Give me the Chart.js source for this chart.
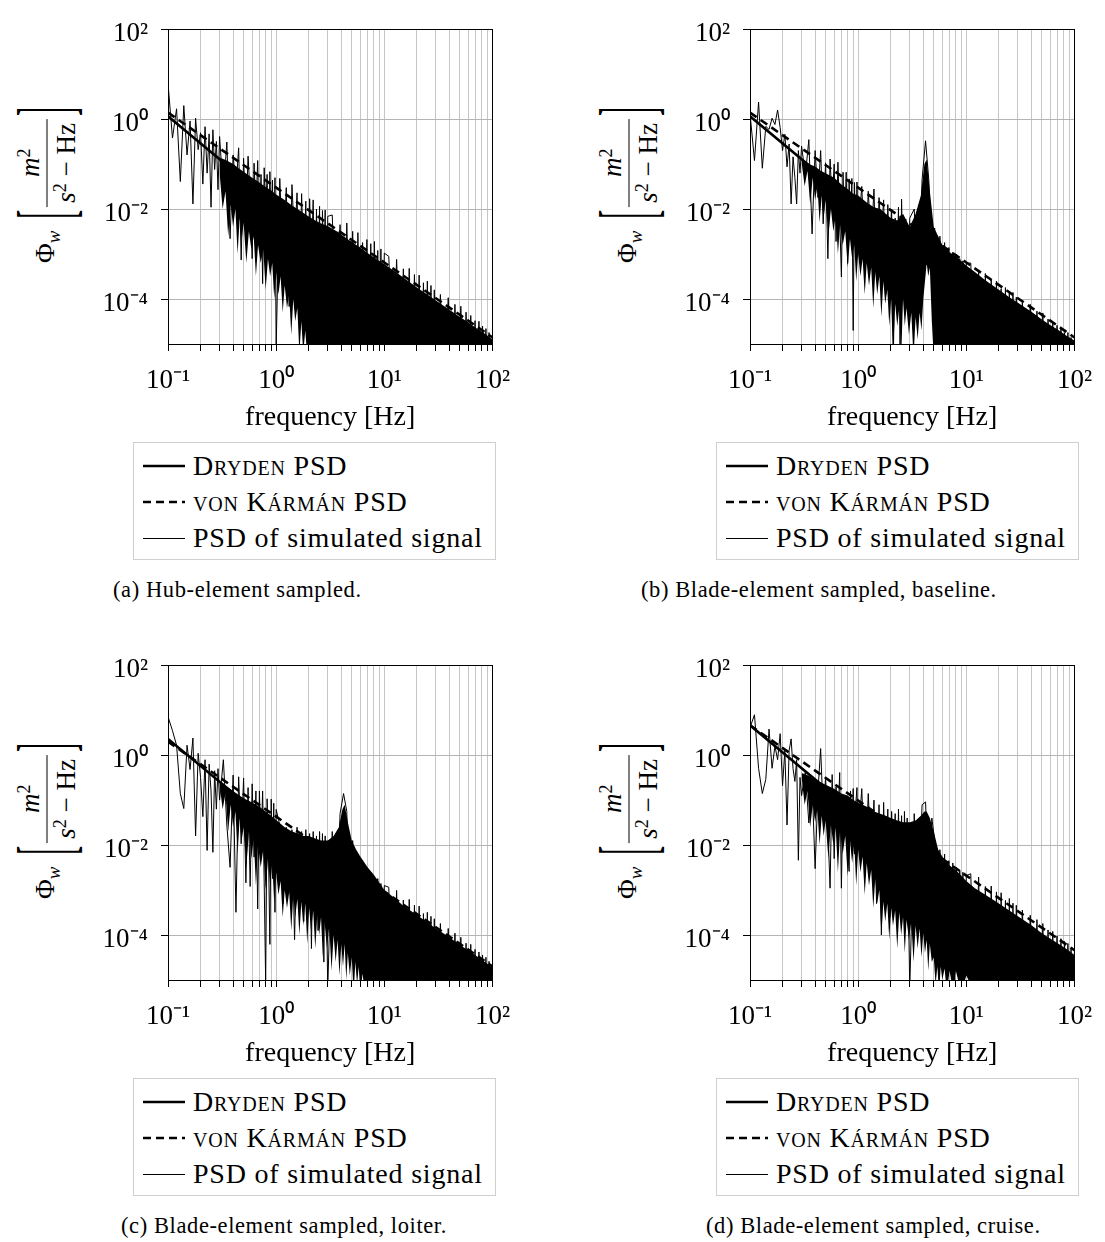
<!DOCTYPE html>
<html>
<head>
<meta charset="utf-8">
<script src="https://cdn.jsdelivr.net/npm/chart.js@4.4.1/dist/chart.umd.min.js"></script>
<style>
  html, body { margin:0; padding:0; background:#fff; overflow:hidden; }
  #page { position:relative; width:1105px; height:1242px; background:#fff; font-family:'Liberation Serif','Times New Roman',serif; color:#000; }
  canvas { position:absolute; }
  .yt { position:absolute; display:flex; align-items:center; white-space:nowrap; font-size:27px; line-height:1;
        font-family:'Liberation Serif','Times New Roman',serif;
        transform:translate(-50%,-50%) rotate(-90deg); }
  .yt .phi { margin-right:12px; }
  .yt .phi sub { font-style:italic; font-size:19px; vertical-align:-6px; }
  .yt .br { display:inline-block; transform:scaleY(2.9); font-size:27px; line-height:1; }
  .yt .frac { display:inline-flex; flex-direction:column; align-items:center; margin:0 3px; }
  .yt .num { font-style:italic; padding:0 2px 3px; }
  .yt .den { border-top:1.2px solid #000; padding:3px 4px 0; }
  .yt sup { font-size:18px; vertical-align:9px; font-style:normal; }
  .yt i { font-style:italic; }
  .legend { position:absolute; width:363px; height:118px; box-sizing:border-box; border:1px solid #cfcfcf; background:#fff;
            font-family:'Liberation Serif','Times New Roman',serif; }
  .legend .row { position:absolute; left:0; height:36px; width:100%; }
  .legend svg { position:absolute; left:9px; top:13px; }
  .legend .txt { position:absolute; left:59px; top:0; line-height:36px; font-size:28px; letter-spacing:0.8px; white-space:nowrap; }
  .sc { font-variant:small-caps; }
  .cap { position:absolute; font-size:22.5px; letter-spacing:0.6px; white-space:nowrap; line-height:24px;
         font-family:'Liberation Serif','Times New Roman',serif; }
</style>
</head>
<body>
<div id="page">
  <canvas id="ca" width="434" height="440" style="left:90px;top:0px"></canvas>
  <canvas id="cb" width="434" height="440" style="left:672px;top:0px"></canvas>
  <canvas id="cc" width="434" height="440" style="left:90px;top:636px"></canvas>
  <canvas id="cd" width="434" height="440" style="left:672px;top:636px"></canvas>
</div>
<script>
// ---------------- data ----------------
const seriesNames = ['Dryden PSD', 'von Kármán PSD', 'PSD of simulated signal'];
const captions = ['(a) Hub-element sampled.', '(b) Blade-element sampled, baseline.',
                  '(c) Blade-element sampled, loiter.', '(d) Blade-element sampled, cruise.'];
const xTitle = 'frequency [Hz]';

const xTickVals = [0.1,0.2,0.3,0.4,0.5,0.6,0.7,0.8,0.9,1,2,3,4,5,6,7,8,9,10,20,30,40,50,60,70,80,90,100];
const xTickLabels = ['10⁻¹','','','','','','','','','10⁰','','','','','','','','','10¹','','','','','','','','','10²'];
const yTickVals = [1e-4, 1e-2, 1, 100];
const yTickLabels = ['10⁻⁴','10⁻²','10⁰','10²'];

// model PSD curves (Hz, value)
const lineF = [0.1, 1, 10, 100];
const drydenA = [1.16, 1.16e-2, 1.16e-4, 1.16e-6];
const vonKarmanA = [1.4, 3.0e-2, 6.5e-4, 1.4e-5];
const drydenB = [1.16, 1.16e-2, 1.16e-4, 1.16e-6];
const vonKarmanB = [1.4, 3.0e-2, 6.5e-4, 1.4e-5];
const drydenC = [2.3, 2.3e-2, 2.3e-4, 2.3e-6];
const vonKarmanC = [2.0, 4.3e-2, 9.3e-4, 2.0e-5];
const drydenD = [4.6, 4.6e-2, 4.6e-4, 4.6e-6];
const vonKarmanD = [4.6, 9.8e-2, 2.1e-3, 4.6e-5];

// simulated-signal PSD
const simF = [0.10,0.11,0.12,0.13,0.14,0.15,0.16,0.17,0.18,0.19,0.20,0.21,0.22,0.23,0.24,0.25,0.26,0.27,0.28,0.29,0.30,
  0.325,0.35,0.375,0.40,0.425,0.45,0.475,0.50,0.525,0.55,0.575,0.60,0.625,0.65,0.675,0.70,0.725,0.75,0.775,0.80,0.825,0.85,0.875,0.90,0.925,0.95,0.975,1.0,
  1.08,1.16,1.24,1.32,1.40,1.48,1.56,1.64,1.72,1.80,1.88,1.96,2.04,2.12,2.20,2.28,2.36,2.44,2.52,2.60,2.68,2.76,2.84,2.92,3.0,
  3.3,3.6,3.9,4.2,4.5,4.8,5.1,5.4,5.7,6.0,6.3,6.6,6.9,7.2,7.5,7.8,8.1,8.4,8.7,9.0,9.3,9.6,10,
  11,12,13,14,15,16,17,18,19,20,21,22,23,24,25,26,27,28,29,30,
  33,36,39,42,45,48,51,54,57,60,63,66,69,72,75,78,81,84,87,90,93,96,100];

const simA = [6.3,3.8e-1,1.7,4.1e-2,2.0,1.6e-1,9.1e-1,1.3e-2,1.05,2.1e-1,5.0e-1,3.6e-2,6.8e-1,6.3e-2,4.7e-1,1.1e-2,5.8e-1,7.6e-2,3.2e-1,2.7e-2,4.1e-1,
  2.2e-2,3.1e-1,2.2e-3,1.6e-1,2.8e-2,2.3e-1,7.4e-4,1.35e-1,6.3e-3,1.5e-1,2.1e-2,7.9e-4,1.05e-1,8.7e-3,1.2e-1,1.9e-3,5.9e-2,2.2e-4,8.3e-2,7.8e-3,5.9e-2,8.9e-4,6.8e-2,3.2e-3,4.4e-2,3.0e-4,5.0e-2,8e-6,
  4.8e-2,6.8e-4,3.0e-2,6.8e-5,3.5e-2,1.8e-3,2.3e-2,1.2e-4,2.2e-2,5.1e-4,1.5e-2,1.4e-5,1.7e-2,7.8e-4,1.6e-2,4.4e-5,1.0e-2,1.5e-4,1.15e-2,5.5e-6,9.3e-3,3.2e-4,9.5e-3,1.4e-5,6.9e-3,
  7.4e-3,3.2e-5,4.5e-3,7.8e-6,4.9e-3,3.2e-5,3.2e-3,1.0e-5,3.0e-3,1.4e-5,1.8e-3,3e-6,2.1e-3,1.3e-5,1.7e-3,3.5e-6,1.9e-3,7.8e-6,1.2e-3,3.5e-6,1.3e-3,5e-6,1.05e-3,
  8.9e-4,4.4e-6,7.6e-4,3.3e-6,4.7e-4,2.7e-6,4.8e-4,2.2e-6,3.5e-4,1.8e-6,3.4e-4,1.6e-6,2.3e-4,1.3e-6,2.5e-4,1.2e-6,2.0e-4,1.0e-6,1.6e-4,9e-7,
  1.26e-4,1e-6,1.07e-4,1e-6,7.6e-5,1e-6,6.9e-5,1e-6,5.1e-5,1e-6,4.3e-5,1e-6,3.3e-5,1e-6,3.2e-5,1e-6,2.5e-5,1e-6,2.2e-5,1e-6,1.8e-5,1e-6,1.6e-5];

const simB = [1.35,1.2e-1,2.4,8.1e-2,6.9e-1,5.9e-1,1.05,7.6e-1,1.6,6.5e-1,2e-1,4.6e-1,8.7e-2,2.8e-1,1.3e-2,1.45e-1,5e-2,1.3e-2,2e-1,6.3e-2,2.5e-1,
  5.6e-2,3.5e-1,2.8e-3,2e-1,1.8e-2,2e-1,4.7e-3,1.07e-1,7.9e-4,1.3e-1,1.35e-2,1e-1,1.9e-3,1.1e-1,6.6e-3,3.1e-4,6.6e-2,3.5e-3,6.6e-2,6.2e-4,4.7e-2,4.5e-3,4.8e-2,2e-5,3.9e-2,1.2e-3,4e-2,2.7e-3,
  3.2e-2,5e-4,2.5e-2,1.6e-3,2.8e-2,2.5e-4,1.8e-2,2.5e-3,1.6e-2,1.26e-4,1.26e-2,6.3e-4,1e-2,6.3e-6,6.3e-3,3.2e-4,1.1e-2,7.9e-6,1.66e-2,4e-4,5e-3,6.3e-5,4e-3,2e-4,6.3e-3,
  1e-2,1e-4,4.5e-2,3.3e-1,4.5e-2,1e-3,3.8e-3,6.3e-6,2.5e-3,1.26e-5,1.8e-3,5e-6,1.4e-3,1e-5,1.1e-3,5e-6,1e-3,6.3e-6,7.9e-4,5e-6,7.1e-4,6.3e-6,6.3e-4,
  6.3e-4,1e-6,4.3e-4,1e-6,3.7e-4,1e-6,2.7e-4,1e-6,2.5e-4,1e-6,1.7e-4,1e-6,1.8e-4,1e-6,1.4e-4,1e-6,1.4e-4,1e-6,1.1e-4,1e-6,
  8.9e-5,1e-6,7.6e-5,1e-6,5.4e-5,1e-6,4.9e-5,1e-6,3.6e-5,1e-6,3e-5,1e-6,2.6e-5,1e-6,2.3e-5,1e-6,1.8e-5,1e-6,1.8e-5,1e-6,1.4e-5,1e-6,1.26e-5];

const simC = [7.2,3.5,1.66,1.4e-1,6.5e-2,1.66,4.8e-1,2.4,1.6e-2,1.1,3.2e-1,4.3e-2,7.9e-1,7.6e-3,6.3e-1,1.6e-1,6.9e-3,4.5e-1,6.3e-2,5e-1,1e-1,
  7.9e-1,2.8e-2,3.2e-3,3.6e-1,3.2e-4,3.3e-1,1.07e-2,3.1e-1,1.45e-3,1.9e-1,1.2e-3,2.3e-1,5.4e-3,1.6e-1,3.8e-4,1.6e-1,8.5e-3,1.6e-1,1.5e-3,8.9e-6,1.07e-1,6.5e-3,6.2e-5,1.05e-1,1.8e-3,8.5e-2,3.2e-4,6.2e-2,
  2.8e-2,5e-4,2.5e-2,2.5e-3,2.2e-2,7.9e-5,2.5e-2,1e-3,2e-2,2e-4,2.2e-2,1.6e-3,1.8e-2,5e-5,2e-2,6.3e-4,1.6e-2,1.26e-4,2e-2,4e-4,1.8e-2,2.5e-5,1.6e-2,5e-4,6.3e-6,
  2e-2,1.6e-4,5e-2,1.4e-1,5.6e-2,2.5e-4,1.26e-2,2.5e-5,6.3e-3,6.3e-5,4.5e-3,6.3e-6,3.2e-3,1e-5,2.5e-3,5e-6,2e-3,6.3e-6,1.8e-3,5e-6,1.4e-3,6.3e-6,1.26e-3,
  1.15e-3,1e-6,9.8e-4,1e-6,6e-4,1e-6,6.2e-4,1e-6,4.6e-4,1e-6,4.4e-4,1e-6,3e-4,1e-6,3.2e-4,1e-6,2.6e-4,1e-6,2.3e-4,1e-6,
  1.8e-4,1e-6,1.4e-4,1e-6,1.1e-4,1e-6,8.9e-5,1e-6,6.6e-5,1e-6,6.2e-5,1e-6,4.8e-5,1e-6,4.2e-5,1e-6,3.6e-5,1e-6,3.2e-5,1e-6,2.6e-5,1e-6,2.3e-5];

const simD = [4.1,7.9,5.1e-1,1.4e-1,2.9e-1,3.8,5.1e-1,1.6,7.9e-1,3.0,2.1e-1,1.26,2.8e-2,1.26,2.3,5e-1,2.6e-1,7.9e-1,4.6e-3,3.2e-1,1.26e-1,
  4.4e-1,3.1e-2,2.5e-1,3e-3,1.6e-1,1.4,5e-2,3.2e-1,2.5e-2,1.1e-3,3.7e-1,5e-3,2e-1,3.2e-2,4.1e-1,1.1e-3,1.26e-1,2e-2,1.2e-1,1e-2,2.6e-3,1.6e-1,1.6e-2,1.8e-1,6.3e-3,7.9e-2,1.9e-1,1.26e-2,
  1.8e-1,2e-3,1.4e-1,5e-3,1e-1,5e-4,7.9e-2,1e-4,8.9e-2,1.26e-3,6.3e-2,2.5e-4,5.6e-2,2.5e-3,5e-2,1.6e-4,6.3e-2,7.9e-4,4.5e-2,3.2e-4,5.6e-2,1.6e-3,4e-2,4e-4,6.3e-6,
  5e-2,2.5e-4,7.9e-2,9.1e-2,6.3e-4,4e-2,1.26e-2,2e-5,7.9e-3,3.2e-5,6.3e-3,1.26e-5,4.5e-3,2.5e-5,4e-3,6.3e-6,3.2e-3,2e-5,2.8e-3,6.3e-6,2.5e-3,1.6e-5,2.1e-3,
  2.3e-3,1e-6,1.95e-3,1e-6,1.2e-3,1e-6,1.23e-3,1e-6,9.1e-4,1e-6,8.7e-4,1e-6,5.9e-4,1e-6,6.5e-4,1e-6,5.1e-4,1e-6,4.6e-4,1e-6,
  3.6e-4,1e-6,2.75e-4,1e-6,2.2e-4,1e-6,1.8e-4,1e-6,1.3e-4,1e-6,1.2e-4,1e-6,9.5e-5,1e-6,8.3e-5,1e-6,7.2e-5,1e-6,6.5e-5,1e-6,5.1e-5,1e-6,4.6e-5];

// dense part of the simulated-signal PSD: upper edge and (jagged) lower edge of the solid band
const bandF = [0.3,0.35,0.4,0.45,0.5,0.6,0.7,0.8,0.9,1,1.2,1.4,1.6,1.8,2,2.3,2.6,3,3.4,3.8,4.1,4.3,4.6,5,5.5,6,7,8,10,12,15,20,25,30,40,50,60,70,85,100];
const bandLoF = [0.30,0.32,0.34,0.36,0.38,0.40,0.42,0.44,0.46,0.48,0.50,0.53,0.56,0.59,0.62,0.65,0.68,0.72,0.76,0.80,0.84,0.88,0.92,0.96,1.0,
  1.05,1.1,1.15,1.2,1.26,1.32,1.38,1.44,1.5,1.57,1.64,1.71,1.78,1.86,1.94,2.02,2.1,2.2,2.3,2.4,2.5,2.6,2.7,2.8,
  2.95,3.1,3.25,3.4,3.55,3.7,3.85,4.0,4.15,4.3,4.45,4.6,4.8,5.0,5.2,5.4,5.6,5.8,6.0,6.3,6.6,7.0,7.5,8,9,10,12,15,20,30,50,100];

const bandHiA = [1.4e-1,1.2e-1,1e-1,8.1e-2,6.8e-2,5e-2,3.9e-2,3.1e-2,2.6e-2,2.1e-2,1.6e-2,1.2e-2,9.8e-3,8.1e-3,6.8e-3,5.6e-3,4.8e-3,4.2e-3,3.5e-3,3.0e-3,2.6e-3,2.4e-3,2.1e-3,1.9e-3,1.6e-3,1.4e-3,1.05e-3,8.5e-4,5.9e-4,4.4e-4,3.0e-4,1.8e-4,1.26e-4,9.3e-5,5.8e-5,4e-5,3e-5,2.3e-5,1.7e-5,1.26e-5];
const bandLoA = [6.3e-2,1e-2,2.5e-2,2.5e-3,1.26e-2,4e-3,1e-2,1e-3,6.3e-3,2e-3,5e-3,6.3e-4,3.2e-3,1.26e-3,2.5e-3,3.2e-4,1.6e-3,6.3e-4,1.26e-3,1.6e-4,7.9e-4,3.2e-4,6.3e-4,1e-4,4e-4,
  1.26e-4,3.2e-4,5e-5,2e-4,6.3e-5,1.26e-4,1.6e-5,1e-4,3.2e-5,6.3e-5,6.3e-6,3.2e-5,6.3e-6,2e-5,5e-6,1e-5,5e-6,5e-6,5e-6,5e-6,5e-6,5e-6,5e-6,5e-6,
  5e-6,5e-6,5e-6,5e-6,5e-6,5e-6,5e-6,5e-6,5e-6,5e-6,5e-6,5e-6,5e-6,5e-6,5e-6,5e-6,5e-6,5e-6,5e-6,5e-6,5e-6,5e-6,5e-6,5e-6,5e-6,5e-6,5e-6,5e-6,5e-6,5e-6,5e-6,5e-6];

const bandHiB = [1.26e-1,1e-1,8.9e-2,7.1e-2,6.3e-2,5e-2,3.5e-2,2.8e-2,2.2e-2,2e-2,1.4e-2,1.1e-2,1e-2,7.9e-3,6.3e-3,5.6e-3,7.9e-3,4e-3,7.9e-3,2e-2,1e-1,1.26e-1,2.5e-2,4e-3,2.5e-3,1.6e-3,1.1e-3,8.9e-4,5.6e-4,4e-4,2.6e-4,1.6e-4,1.1e-4,8.3e-5,5.2e-5,3.5e-5,2.6e-5,2.1e-5,1.5e-5,1.2e-5];
const bandLoB = [1.1e-1,3.2e-2,7.1e-2,1.26e-2,5e-2,1.6e-2,3.2e-2,5e-3,2e-2,6.3e-3,1.6e-2,2.5e-3,1e-2,3.2e-3,7.1e-3,1e-3,4.5e-3,1.6e-3,3.2e-3,5e-4,2.2e-3,7.9e-4,1.6e-3,2.5e-4,1e-3,
  3.2e-4,7.9e-4,1.26e-4,6.3e-4,2e-4,5e-4,6.3e-5,4e-4,1.26e-4,3.2e-4,4e-5,2.5e-4,7.9e-5,1.6e-4,2.5e-5,1e-4,5e-6,7.9e-5,2.5e-5,6.3e-5,5e-6,1e-4,2.5e-5,6.3e-5,
  1.6e-5,5e-5,5e-6,4e-5,1.26e-5,5e-5,2e-5,1e-4,2.5e-4,6.3e-4,3.2e-4,5e-4,3.2e-5,5e-6,5e-6,5e-6,5e-6,5e-6,5e-6,5e-6,5e-6,5e-6,5e-6,5e-6,5e-6,5e-6,5e-6,5e-6,5e-6,5e-6,5e-6,5e-6];

const bandHiC = [2.5e-1,2e-1,1.6e-1,1.3e-1,1.1e-1,8.9e-2,7.1e-2,5.6e-2,4.5e-2,3.6e-2,2.5e-2,2e-2,1.8e-2,1.6e-2,1.6e-2,1.4e-2,1.26e-2,1.26e-2,1.6e-2,2.5e-2,6.3e-2,7.9e-2,3.2e-2,1.26e-2,7.9e-3,5.6e-3,3.2e-3,2.2e-3,1e-3,7.1e-4,4.5e-4,2.8e-4,1.9e-4,1.4e-4,8.9e-5,6e-5,4.5e-5,3.5e-5,2.5e-5,1.9e-5];
const bandLoC = [2.2e-1,6.3e-2,1.4e-1,2e-2,7.9e-2,2.5e-2,5.6e-2,6.3e-3,4e-2,1.26e-2,2.5e-2,3.2e-3,2e-2,5e-3,1.4e-2,1.26e-3,1e-2,3.2e-3,7.9e-3,1e-3,5e-3,1.26e-3,4e-3,5e-4,2.5e-3,
  7.9e-4,1.6e-3,2.5e-4,1e-3,4e-4,8.9e-4,1.26e-4,7.9e-4,2.5e-4,6.3e-4,1e-4,5.6e-4,1.6e-4,5e-4,6.3e-5,4e-4,1.26e-4,3.5e-4,5e-5,2.8e-4,1e-4,2.5e-4,3.2e-5,2e-4,
  5e-5,1.6e-4,1.6e-5,1e-4,2.5e-5,7.9e-5,1.26e-5,6.3e-5,2e-5,6.3e-5,1e-5,4e-5,1.26e-5,3.2e-5,5e-6,2.5e-5,7.9e-6,2e-5,5e-6,1.4e-5,5e-6,1e-5,5e-6,5e-6,5e-6,5e-6,5e-6,5e-6,5e-6,5e-6,5e-6,5e-6];

const bandHiD = [4e-1,3.5e-1,2.8e-1,2.5e-1,2.2e-1,1.8e-1,1.4e-1,1.26e-1,1e-1,8.9e-2,7.1e-2,5.6e-2,5e-2,4.5e-2,4e-2,3.5e-2,3.2e-2,3.2e-2,3.5e-2,4.5e-2,5.6e-2,5.6e-2,4e-2,2e-2,7.9e-3,5.6e-3,3.5e-3,2.8e-3,1.6e-3,1.1e-3,7.9e-4,5e-4,3.5e-4,2.6e-4,1.66e-4,1.1e-4,8.3e-5,6.6e-5,4.8e-5,3.6e-5];
const bandLoD = [3.2e-1,7.9e-2,1.6e-1,2.5e-2,7.9e-2,3.2e-2,6.3e-2,1e-2,4.5e-2,1.6e-2,3.5e-2,5e-3,2.8e-2,1e-2,2.5e-2,2.5e-3,2e-2,6.3e-3,1.6e-2,2e-3,1.26e-2,4e-3,1.1e-2,1.26e-3,7.9e-3,
  2.5e-3,5.6e-3,7.9e-4,4e-3,1.26e-3,2.8e-3,4e-4,1.8e-3,5e-4,1e-3,1e-4,5.6e-4,2e-4,5e-4,7.9e-5,4e-4,1.6e-4,3.5e-4,5e-5,3.2e-4,1e-4,2.5e-4,4e-5,2.2e-4,
  7.9e-5,2e-4,2.5e-5,1.6e-4,5e-5,1.4e-4,3.2e-5,1.1e-4,4e-5,7.9e-5,1.6e-5,6.3e-5,2.5e-5,3.2e-5,7.9e-6,2e-5,5e-6,2e-5,1e-5,1.8e-5,5e-6,1.6e-5,6.3e-6,1.6e-5,5e-6,1.26e-5,5e-6,5e-6,5e-6,5e-6,5e-6,5e-6];

// ---------------- layout ----------------
const FONT = "'Liberation Serif', 'Times New Roman', serif";
const panels = [
  {id:'ca', sim:simA, hi:bandHiA, lo:bandLoA, dry:drydenA, vk:vonKarmanA, ytx:47,  yty:185, legX:133, legY:442, capX:113, capY:578},
  {id:'cb', sim:simB, hi:bandHiB, lo:bandLoB, dry:drydenB, vk:vonKarmanB, ytx:629, yty:185, legX:716, legY:442, capX:641, capY:578},
  {id:'cc', sim:simC, hi:bandHiC, lo:bandLoC, dry:drydenC, vk:vonKarmanC, ytx:47,  yty:821, legX:133, legY:1078, capX:121, capY:1214},
  {id:'cd', sim:simD, hi:bandHiD, lo:bandLoD, dry:drydenD, vk:vonKarmanD, ytx:629, yty:821, legX:716, legY:1078, capX:706, capY:1214}
];

const framePlugin = {
  id:'frame',
  afterDatasetsDraw(chart) {
    const {ctx, chartArea:a} = chart;
    ctx.save();
    ctx.strokeStyle = '#000';
    ctx.lineWidth = 1;
    ctx.strokeRect(Math.round(a.left)+0.5, Math.round(a.top)+0.5, Math.round(a.right-a.left), Math.round(a.bottom-a.top));
    ctx.restore();
  }
};

const pts = (xs, ys) => xs.map((x, i) => ({x, y: ys[i]}));

function makeChart(p) {
  return new Chart(document.getElementById(p.id), {
    type:'line',
    data:{ datasets:[
      {label:seriesNames[0], data:pts(lineF, p.dry), borderColor:'#000', borderWidth:2.6, pointRadius:0, fill:false, order:0},
      {label:seriesNames[1], data:pts(lineF, p.vk), borderColor:'#000', borderWidth:2.6, borderDash:[8,5], pointRadius:0, fill:false, order:1},
      {label:seriesNames[2], data:pts(simF, p.sim), borderColor:'#000', borderWidth:1, pointRadius:0, fill:false, borderJoinStyle:'bevel', order:2},
      {label:'band', data:pts(bandF, p.hi), borderColor:'#000', borderWidth:0, pointRadius:0, fill:'+1', backgroundColor:'#000', order:3},
      {label:'band low', data:pts(bandLoF, p.lo), borderColor:'#000', borderWidth:0, pointRadius:0, fill:false, order:4}
    ]},
    options:{
      responsive:false, animation:false, devicePixelRatio:1,
      layout:{padding:{left:0, right:30, top:18, bottom:0}},
      plugins:{legend:{display:false}, tooltip:{enabled:false}},
      scales:{
        x:{
          type:'logarithmic', min:0.1, max:100,
          afterBuildTicks:(s)=>{ s.ticks = xTickVals.map(v=>({value:v})); },
          afterFit:(s)=>{ s.height = 96; },
          ticks:{autoSkip:false, maxRotation:0, minRotation:0, padding:14, color:'#000',
                 font:{family:FONT, size:27}, callback:(v,i)=>xTickLabels[i]},
          grid:{color:'#c6c6c6', lineWidth:1, tickColor:'#000', tickLength:7, drawTicks:true},
          border:{display:true, color:'#000', width:1},
          title:{display:true, text:xTitle, color:'#000', font:{family:FONT, size:28}, padding:{top:0, bottom:6}}
        },
        y:{
          type:'logarithmic', min:1e-5, max:100,
          afterBuildTicks:(s)=>{ s.ticks = yTickVals.map(v=>({value:v})); },
          afterFit:(s)=>{ s.width = 78; },
          ticks:{autoSkip:false, padding:13, labelOffset:5, color:'#000',
                 font:{family:FONT, size:27}, callback:(v,i)=>yTickLabels[i]},
          grid:{color:'#b4b4b4', lineWidth:1, tickColor:'#000', tickLength:7, drawTicks:true},
          border:{display:true, color:'#000', width:1}
        }
      }
    },
    plugins:[framePlugin]
  });
}

const page = document.getElementById('page');
const legendSamples = [
  '<line x1="0" y1="5" x2="42" y2="5" stroke="#000" stroke-width="2.6"/>',
  '<line x1="0" y1="5" x2="42" y2="5" stroke="#000" stroke-width="2.6" stroke-dasharray="8 5"/>',
  '<line x1="0" y1="5.5" x2="42" y2="5.5" stroke="#000" stroke-width="1"/>'
];
const legendHTML = [
  '<span class="sc">Dryden</span> PSD',
  '<span class="sc">von Kármán</span> PSD',
  'PSD of simulated signal'
];

panels.forEach((p, k) => {
  makeChart(p);
  const yt = document.createElement('div');
  yt.className = 'yt';
  yt.style.left = p.ytx + 'px';
  yt.style.top = p.yty + 'px';
  yt.innerHTML = '<span class="phi">Φ<sub>w</sub></span><span class="br">[</span>' +
    '<span class="frac"><span class="num">m<sup>2</sup></span><span class="den"><i>s</i><sup>2</sup> − Hz</span></span>' +
    '<span class="br">]</span>';
  page.appendChild(yt);
  const lg = document.createElement('div');
  lg.className = 'legend';
  lg.style.left = p.legX + 'px';
  lg.style.top = p.legY + 'px';
  seriesNames.forEach((n, i) => {
    const r = document.createElement('div');
    r.className = 'row';
    r.style.top = (5 + 36 * i) + 'px';
    r.innerHTML = '<svg width="42" height="10">' + legendSamples[i] + '</svg><span class="txt">' + legendHTML[i] + '</span>';
    lg.appendChild(r);
  });
  page.appendChild(lg);
  const c = document.createElement('div');
  c.className = 'cap';
  c.style.left = p.capX + 'px';
  c.style.top = p.capY + 'px';
  c.textContent = captions[k];
  page.appendChild(c);
});
</script>
</body>
</html>
